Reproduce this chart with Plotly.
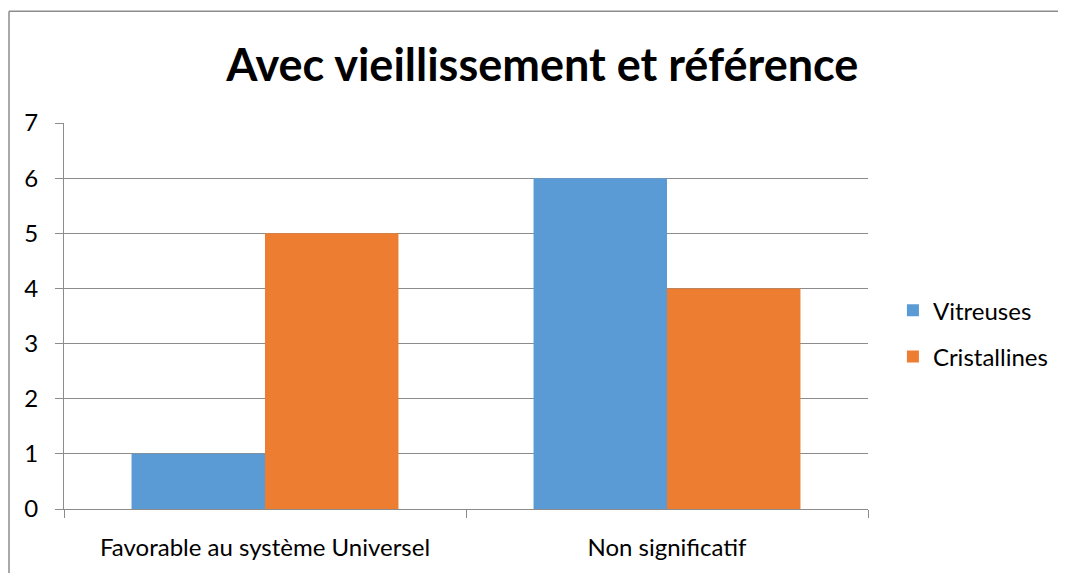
import plotly.graph_objects as go

categories = ["Favorable au système Universel", "Non significatif"]
vitreuses = [1, 6]
cristallines = [5, 4]
y_ticks = [0, 1, 2, 3, 4, 5, 6, 7]

fig = go.Figure()

fig.add_trace(go.Bar(
    x=categories,
    y=vitreuses,
    name="Vitreuses",
    marker=dict(color="#5B9BD5", line=dict(width=0)),
    legendgroup="a"
))

fig.add_trace(go.Bar(
    x=categories,
    y=cristallines,
    name="Cristallines",
    marker=dict(color="#ED7D31", line=dict(width=0)),
    legendgroup="b"
))

# page body has an 8px margin, so the figure is sized to fit inside the window
fig.update_layout(
    width=1058,
    height=565,
    barmode="group",
    bargap=0.336,
    bargroupgap=0,
    plot_bgcolor="white",
    paper_bgcolor="white",
    font=dict(family="Lato", size=24, color="black"),
    title=dict(
        text="<b>Avec vieillissement et référence</b>",
        font=dict(family="Lato", size=45, color="black"),
        x=0.505,
        xanchor="center",
        y=0.899,
        yanchor="middle"
    ),
    legend=dict(
        x=1.031,
        xanchor="left",
        y=0.454,
        yanchor="middle",
        tracegroupgap=12,
        font=dict(size=24),
        itemwidth=30
    ),
    margin=dict(l=56, r=198, t=115, b=60),
)

fig.update_yaxes(
    range=[0, 7],
    tickvals=y_ticks,
    showgrid=True,
    gridcolor="#8C8C8C",
    gridwidth=1,
    showline=True,
    linecolor="#8C8C8C",
    ticks="outside",
    ticklen=8,
    tickcolor="#8C8C8C",
    zeroline=False,
    ticklabelstandoff=12
)

fig.update_xaxes(
    showline=True,
    linecolor="#8C8C8C",
    ticks="outside",
    tickson="boundaries",
    ticklen=8,
    tickcolor="#8C8C8C",
    ticklabelstandoff=17
)

# chart frame (left and top edges visible)
fig.add_shape(type="line", xref="paper", yref="paper",
              x0=-0.0684, x1=1.3, y0=1.2897, y1=1.2897,
              line=dict(color="#8C8C8C", width=1.5))
fig.add_shape(type="line", xref="paper", yref="paper",
              x0=-0.0684, x1=-0.0684, y0=-0.2, y1=1.2897,
              line=dict(color="#8C8C8C", width=1.5))

fig.write_html("out.html")
